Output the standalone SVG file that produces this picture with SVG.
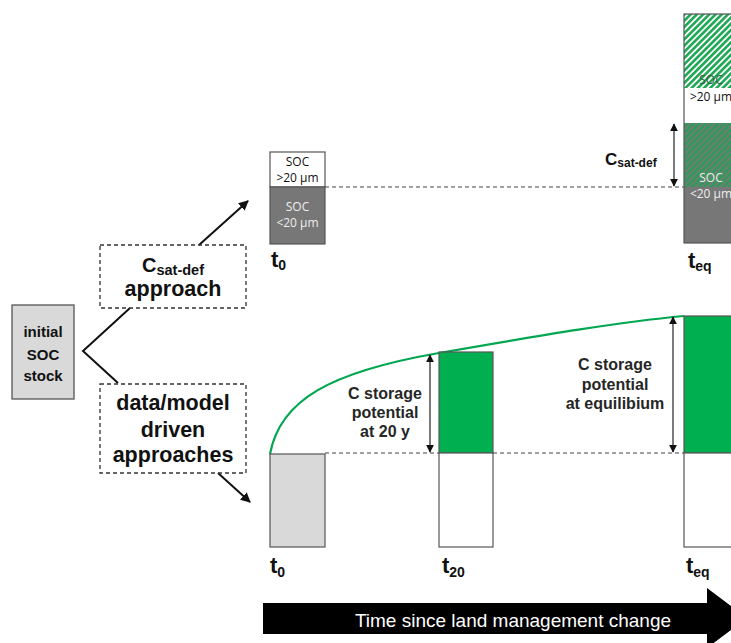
<svg xmlns="http://www.w3.org/2000/svg" width="731" height="643" viewBox="0 0 731 643">
<style>
.b{font-family:"Liberation Sans",Arial,sans-serif;font-weight:bold;fill:#111}
.lbl{font-family:"Liberation Sans",Arial,sans-serif;font-weight:bold;fill:#262626;font-size:16px;text-anchor:middle}
.soc{font-family:"Open Sans","Liberation Sans",sans-serif;font-size:12px;text-anchor:middle}
.box{fill:none;stroke:#333;stroke-width:1.3;stroke-dasharray:4 3}
.dash{stroke:#444;stroke-width:1.2;stroke-dasharray:4 3;fill:none}
.bar{stroke:#555;stroke-width:1.2}
.conn{stroke:#111;stroke-width:2;fill:none}
.dim{stroke:#222;stroke-width:1.2;fill:none}
</style>
<defs>
<marker id="ah" viewBox="0 0 10 10" refX="9" refY="5" markerWidth="10" markerHeight="10" markerUnits="userSpaceOnUse" orient="auto">
<path d="M0,0 L10,5 L0,10 z" fill="#111"/>
</marker>
<marker id="dh" viewBox="0 0 10 10" refX="9" refY="5" markerWidth="8" markerHeight="8" markerUnits="userSpaceOnUse" orient="auto-start-reverse">
<path d="M0,0 L10,5 L0,10 z" fill="#111"/>
</marker>
<pattern id="hl" width="4.4" height="6" patternUnits="userSpaceOnUse" patternTransform="rotate(45)">
<rect width="4.4" height="6" fill="#fff"/>
<rect width="2.6" height="6" fill="#1fa855"/>
</pattern>
<pattern id="hd" width="4.4" height="6" patternUnits="userSpaceOnUse" patternTransform="rotate(45)">
<rect width="4.4" height="6" fill="#6e7e72"/>
<rect width="2.4" height="6" fill="#2e9a5a"/>
</pattern>
</defs>

<g id="connectors">
<line class="dash" x1="325" y1="187" x2="684" y2="187"/>
<line class="dash" x1="325" y1="453" x2="731" y2="453"/>
<polyline class="conn" points="130,308 83,351 118,383"/>
<line class="conn" x1="199" y1="245" x2="248" y2="201" marker-end="url(#ah)"/>
<line class="conn" x1="218" y1="473" x2="250" y2="502" marker-end="url(#ah)"/>
<path d="M270,454 C280,400 330,372 439,353 S620,322 684,316" fill="none" stroke="#00a650" stroke-width="2.2"/>
<line class="dim" x1="674" y1="124" x2="674" y2="186" marker-start="url(#dh)" marker-end="url(#dh)"/>
<line class="dim" x1="430" y1="355" x2="430" y2="452" marker-start="url(#dh)" marker-end="url(#dh)"/>
<line class="dim" x1="673" y1="317" x2="673" y2="452" marker-start="url(#dh)" marker-end="url(#dh)"/>
</g>

<g id="initial">
<rect x="12" y="305" width="62" height="94" fill="#d9d9d9" stroke="#555" stroke-width="1.3"/>
<text class="b" x="43" y="337" font-size="15" text-anchor="middle">initial</text>
<text class="b" x="43" y="360" font-size="15" text-anchor="middle">SOC</text>
<text class="b" x="43" y="381" font-size="15" text-anchor="middle">stock</text>
</g>

<g id="csat-approach">
<rect class="box" x="100" y="245" width="146" height="63"/>
<text class="b" x="173" y="272" font-size="20" text-anchor="middle">C<tspan font-size="14.5" dy="3">sat-def</tspan></text>
<text class="b" x="173" y="296" font-size="21.5" text-anchor="middle">approach</text>
</g>

<g id="data-approach">
<rect class="box" x="100" y="384" width="146" height="89"/>
<text class="b" x="173" y="410" font-size="21.5" text-anchor="middle">data/model</text>
<text class="b" x="173" y="437" font-size="21.5" text-anchor="middle">driven</text>
<text class="b" x="173" y="462" font-size="21.5" text-anchor="middle">approaches</text>
</g>

<g id="top-t0">
<rect class="bar" x="270" y="152" width="55" height="35" fill="#fff"/>
<rect class="bar" x="270" y="187" width="55" height="57" fill="#777"/>
<text class="soc" x="297.5" y="166" fill="#111">SOC</text>
<text class="soc" x="297.5" y="182" fill="#111">&gt;20 µm</text>
<text class="soc" x="297.5" y="211" fill="#eee">SOC</text>
<text class="soc" x="297.5" y="227" fill="#eee">&lt;20 µm</text>
<text class="b" x="271" y="267" font-size="22">t<tspan font-size="14" dy="3">0</tspan></text>
</g>

<g id="top-teq">
<rect x="684" y="14" width="56" height="74" fill="url(#hl)"/>
<rect x="684" y="88" width="56" height="35" fill="#fff"/>
<rect x="684" y="123" width="56" height="64" fill="url(#hd)"/>
<rect x="684" y="187" width="56" height="56" fill="#777"/>
<rect x="684" y="14" width="56" height="229" fill="none" stroke="#555" stroke-width="1.2"/>
<text class="soc" x="711" y="84" fill="#3a5a44">SOC</text>
<text class="soc" x="711" y="101" fill="#111">&gt;20 µm</text>
<text class="soc" x="711" y="182" fill="#eee">SOC</text>
<text class="soc" x="711" y="198" fill="#eee">&lt;20 µm</text>
<text class="b" x="688" y="268" font-size="22">t<tspan font-size="14" dy="3">eq</tspan></text>
<text class="b" x="605" y="165" font-size="17">C<tspan font-size="12" dy="2">sat-def</tspan></text>
</g>

<g id="bottom-t0">
<rect class="bar" x="270" y="454" width="55" height="93" fill="#d9d9d9"/>
<text class="b" x="270" y="573" font-size="22">t<tspan font-size="14" dy="4">0</tspan></text>
</g>

<g id="bottom-t20">
<rect class="bar" x="439" y="352" width="54" height="101" fill="#00b050"/>
<rect class="bar" x="439" y="453" width="54" height="94" fill="#fff"/>
<text class="b" x="442" y="573" font-size="22">t<tspan font-size="14" dy="4">20</tspan></text>
<text class="lbl" x="385" y="399">C storage</text>
<text class="lbl" x="385" y="418">potential</text>
<text class="lbl" x="385" y="437">at 20 y</text>
</g>

<g id="bottom-teq">
<rect class="bar" x="684" y="316" width="56" height="137" fill="#00b050"/>
<rect class="bar" x="684" y="453" width="56" height="94" fill="#fff"/>
<text class="b" x="686" y="573" font-size="22">t<tspan font-size="14" dy="4">eq</tspan></text>
<text class="lbl" x="615" y="370">C storage</text>
<text class="lbl" x="615" y="390">potential</text>
<text class="lbl" x="615" y="409">at equilibium</text>
</g>

<g id="time-arrow">
<polygon points="263,603 707,603 707,588 747,618 707,648 707,634 263,634" fill="#000"/>
<text x="513" y="627" font-family="Liberation Sans, Arial, sans-serif" font-size="19" fill="#fff" text-anchor="middle">Time since land management change</text>
</g>
</svg>
